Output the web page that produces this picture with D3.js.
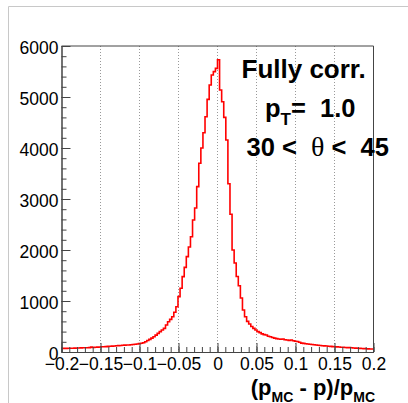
<!DOCTYPE html>
<html><head><meta charset="utf-8">
<script src="https://cdn.jsdelivr.net/npm/d3@7"></script>
<style>
body{margin:0;background:#fff}
svg{display:block}
text{font-family:"Liberation Sans",Arial,Helvetica,sans-serif;fill:#000}
</style>
</head><body>
<svg id="c" width="408" height="403"></svg>
<script>
// ---- data ----
const binLow = -0.2, binHigh = 0.2;
const counts = [
  70, 72, 71, 74, 73, 75, 76, 78, 77, 80,
  82, 84, 83, 86, 95, 88, 92, 95, 98, 102,
  104, 106, 110, 112, 116, 118, 122, 125, 128, 131,
  134, 138, 136, 143, 148, 152, 158, 165, 172, 182,
  200, 225, 248, 272, 300, 330, 365, 400, 432, 464,
  530, 594, 640, 692, 780, 888, 1085, 1250, 1477, 1660,
  1870, 2060, 2261, 2588, 2823, 3242, 3700, 4000, 4300, 4614,
  4954, 5235, 5431, 5497, 5562,
  5730, 5137, 4908, 4600, 4157, 3300, 2700, 2000, 1745, 1480,
  1300, 1060, 824, 692, 600, 549, 500, 464, 431, 400,
  380, 355, 340, 333, 310, 298, 285, 272, 262, 255,
  249, 255, 240, 235, 228, 236, 222, 212, 205, 192,
  175, 170, 163, 158, 152, 148, 142, 137, 133, 128,
  124, 120, 117, 113, 110, 105, 104, 100, 97, 94,
  92, 89, 86, 85, 82, 79, 76, 74, 71, 68,
  66, 64, 62, 60, 59
];
const xMajorTicks = [-0.2, -0.15, -0.1, -0.05, 0, 0.05, 0.1, 0.15, 0.2];
const xTickLabels = ["\u22120.2", "\u22120.15", "\u22120.1", "\u22120.05", "0", "0.05", "0.1", "0.15", "0.2"];
const yMajorTicks = [0, 1000, 2000, 3000, 4000, 5000, 6000];
const yTickLabels = ["0", "1000", "2000", "3000", "4000", "5000", "6000"];
const gridTicks = [-0.15, -0.1, -0.05, 0, 0.05, 0.1, 0.15];

// ---- layout ----
const L = 61.5, R = 373.5, T = 46, B = 352;
const svg = d3.select("#c");
const x = d3.scaleLinear().domain([binLow, binHigh]).range([L, R]);
const y = d3.scaleLinear().domain([0, 6000]).range([B, T]);

// outer pad border
svg.append("path").attr("d", "M8.5,410V6.5H420").attr("fill", "none").attr("stroke", "#c8c8c8").attr("stroke-width", 1);

// grid
svg.append("g").selectAll("line").data(gridTicks).join("line")
  .attr("x1", d => x(d)).attr("x2", d => x(d)).attr("y1", T).attr("y2", B)
  .attr("stroke", "#999").attr("stroke-width", 1).attr("stroke-dasharray", "1,2");

// frame (top & right)
svg.append("path").attr("d", `M${L},${T}H${R}V${B}`).attr("fill", "none").attr("stroke", "#444").attr("stroke-width", 1);

// histogram
const w = (binHigh - binLow) / counts.length;
const pts = [];
counts.forEach((c, i) => { pts.push([binLow + i * w, c]); pts.push([binLow + (i + 1) * w, c]); });
svg.append("path").datum(pts)
  .attr("d", d3.line().x(d => x(d[0])).y(d => y(d[1])))
  .attr("fill", "none").attr("stroke", "#ff0000").attr("stroke-width", 1.6);

// x axis minor
const xMinor = d3.range(-20, 21).map(k => k / 100);
svg.append("g").attr("transform", `translate(0,${B})`)
  .call(d3.axisBottom(x).tickValues(xMinor).tickSize(-5).tickSizeOuter(0).tickFormat(""))
  .call(g => g.selectAll("line,path").attr("stroke", "#444"));
// x axis major
svg.append("g").attr("transform", `translate(0,${B})`)
  .call(d3.axisBottom(x).tickValues(xMajorTicks).tickSize(-9).tickSizeOuter(0).tickPadding(6)
    .tickFormat((d, i) => xTickLabels[i]))
  .call(g => g.selectAll("line,path").attr("stroke", "#444"))
  .call(g => g.selectAll("text").attr("font-size", "17.5px").attr("fill", "#000")
    .style("font-family", '"Liberation Sans",Arial,sans-serif'));

// y axis minor
const yMinor = d3.range(0, 6001, 200);
svg.append("g").attr("transform", `translate(${L},0)`)
  .call(d3.axisLeft(y).tickValues(yMinor).tickSize(-5).tickSizeOuter(0).tickFormat(""))
  .call(g => g.selectAll("line,path").attr("stroke", "#444"));
svg.append("g").attr("transform", `translate(${L},0)`)
  .call(d3.axisLeft(y).tickValues(yMajorTicks).tickSize(-9).tickSizeOuter(0).tickPadding(3)
    .tickFormat((d, i) => yTickLabels[i]))
  .call(g => g.selectAll("line,path").attr("stroke", "#444"))
  .call(g => g.selectAll("text").attr("font-size", "17.5px").attr("dy", "0.42em").attr("fill", "#000")
    .style("font-family", '"Liberation Sans",Arial,sans-serif'));

// labels
svg.append("text").attr("x", 241.5).attr("y", 77.5).attr("font-weight", "bold").attr("font-size", "26px").text("Fully corr.");

const t2 = svg.append("text").attr("x", 265).attr("y", 116.5).attr("font-weight", "bold").attr("font-size", "25.5px").style("white-space", "pre");
t2.append("tspan").text("p");
t2.append("tspan").attr("font-size", "17px").attr("dy", 8).text("T");
t2.append("tspan").attr("dy", -8).text("=  1.0");

const t3 = svg.append("text").attr("x", 246.5).attr("y", 156).attr("font-weight", "bold").attr("font-size", "25.5px").style("white-space", "pre");
t3.append("tspan").text("30 <  ");
t3.append("tspan").attr("font-weight", "normal").style("font-family", '"Liberation Serif","Times New Roman",serif').attr("font-size", "28px").text("\u03B8");
t3.append("tspan").text(" <  45");

// axis title
const at = svg.append("text").attr("x", 375).attr("y", 395).attr("text-anchor", "end").attr("font-weight", "bold").attr("font-size", "22px").style("white-space", "pre");
at.append("tspan").text("(p");
at.append("tspan").attr("font-size", "14px").attr("dy", 7).text("MC");
at.append("tspan").attr("dy", -7).text(" - p)/p");
at.append("tspan").attr("font-size", "14px").attr("dy", 7).text("MC");
</script>
</body></html>
